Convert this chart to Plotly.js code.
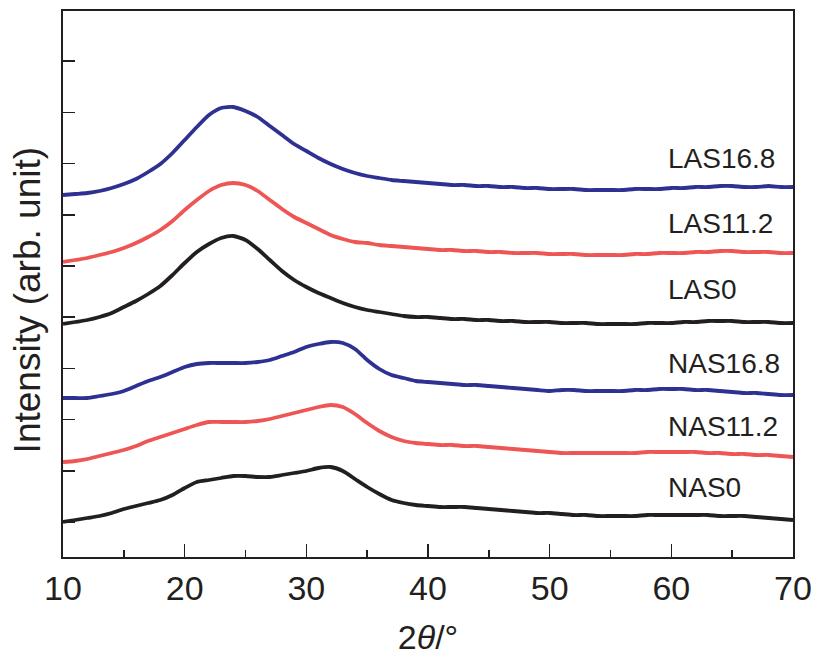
<!DOCTYPE html>
<html>
<head>
<meta charset="utf-8">
<script src="https://cdn.plot.ly/plotly-3.0.1.min.js"></script>
<style>html,body{margin:0;padding:0;background:#fff;}#chart{width:814px;height:656px;}</style>
</head>
<body>
<div id="chart"></div>
<script>
// 2theta (degrees)
const twoTheta = [10,11,12,13,14,15,16,17,18,19,20,21,22,23,24,25,26,27,28,29,30,31,32,33,34,35,36,37,38,39,40,41,42,43,44,45,46,47,48,49,50,51,52,53,54,55,56,57,58,59,60,61,62,63,64,65,66,67,68,69,70];

// Intensities (arb. unit, stacked with offsets as in the figure)
const LAS16_8 = [362,363,364,366,369,373,378,385,393,404,417,430,442,449,450,446,440,431,422,413,406,399,393,388,384,381,379,377,376,375,374,373,372,372,371,371,370,370,369,369,368,368,368,367,367,367,367,368,368,368,369,369,370,370,371,371,370,370,371,370,370];
const LAS11_2 = [295,297,299,302,305,309,314,320,327,336,347,357,366,372,374,372,366,357,348,340,334,328,322,318,315,314,312,311,310,309,308,307,307,306,306,305,305,304,304,304,303,303,303,302,302,302,302,303,303,304,304,304,305,305,306,306,305,305,305,304,304];
const LAS0 = [233,235,237,240,244,250,256,263,271,282,294,305,313,319,321,317,308,297,286,277,270,264,259,254,250,247,245,243,241,240,240,239,238,238,237,237,236,236,235,235,235,234,234,234,233,233,233,233,234,234,234,235,235,236,236,236,235,235,235,234,234];
const NAS16_8 = [159,159,159,161,163,166,171,176,180,185,190,193,194,194,194,194,195,197,201,205,210,213,215,214,208,197,188,182,179,176,175,174,173,172,172,171,170,169,168,167,166,167,167,166,166,166,166,167,167,168,168,168,167,167,166,165,164,164,163,162,162];
const NAS11_2 = [95,96,98,101,104,107,111,116,120,124,128,132,135,135,135,135,136,138,141,144,147,150,152,150,143,134,126,120,116,114,113,112,112,111,111,110,109,108,107,106,105,104,104,104,104,104,104,104,105,105,105,105,105,104,104,103,103,102,102,101,100];
const NAS0 = [35,37,39,41,44,48,51,54,57,62,69,75,77,79,81,81,80,80,82,84,86,89,90,86,78,70,63,57,54,52,51,50,50,50,49,48,47,46,45,44,44,43,42,42,41,41,41,41,42,42,42,42,42,42,41,41,41,40,39,38,37];

const seriesNames = ["LAS16.8","LAS11.2","LAS0","NAS16.8","NAS11.2","NAS0"];
const seriesData = [LAS16_8, LAS11_2, LAS0, NAS16_8, NAS11_2, NAS0];
const seriesColors = ["#2e3192","#ee5555","#231f20","#2e3192","#ee5555","#231f20"];
const labelY = [399,334,268,194,131,70];
const yTitle = "Intensity (arb. unit)";
const xTitle = "2<i>θ</i>/°";

const FONT = "Liberation Sans, Arial, Helvetica, sans-serif";

const traces = seriesData.map((d,i)=>({
  x: twoTheta, y: d, type: "scatter", mode: "lines", name: seriesNames[i],
  line: {color: seriesColors[i], width: 3.8, shape: "spline", smoothing: 0.6},
  showlegend: false, hoverinfo: "skip"
}));

const annotations = seriesNames.map((n,i)=>({
  x: 59.6, y: labelY[i], xref: "x", yref: "y", text: n, showarrow: false,
  xanchor: "left", yanchor: "middle", font: {family: FONT, size: 28, color: "#231f20"}
}));
annotations.push({
  xref: "paper", yref: "paper", x: 0, y: 0.47, xshift: -36,
  text: yTitle, textangle: -90, showarrow: false,
  xanchor: "center", yanchor: "middle",
  font: {family: FONT, size: 37, color: "#231f20"}
});

const layout = {
  width: 814, height: 656,
  margin: {l: 63, r: 21, t: 11, b: 99},
  paper_bgcolor: "#fff", plot_bgcolor: "#fff",
  font: {family: FONT, color: "#231f20"},
  xaxis: {
    range: [10, 70], tickmode: "linear", tick0: 10, dtick: 10,
    ticks: "inside", ticklen: 13, tickwidth: 1.5, tickcolor: "#231f20",
    minor: {dtick: 5, ticks: "inside", ticklen: 7, tickwidth: 1.5, tickcolor: "#231f20"},
    showline: true, linecolor: "#231f20", linewidth: 2, mirror: true,
    showgrid: false, zeroline: false,
    tickfont: {family: FONT, size: 34, color: "#231f20"},
    title: {text: xTitle, font: {family: FONT, size: 34, color: "#231f20"}, standoff: 22}
  },
  yaxis: {
    range: [0, 546], tickmode: "linear", tick0: 35, dtick: 51.2,
    ticks: "inside", ticklen: 12, tickwidth: 1.5, tickcolor: "#231f20",
    showticklabels: false,
    showline: true, linecolor: "#231f20", linewidth: 2, mirror: true,
    showgrid: false, zeroline: false
  },
  annotations: annotations
};

Plotly.newPlot("chart", traces, layout, {staticPlot: true, displayModeBar: false});
</script>
</body>
</html>
